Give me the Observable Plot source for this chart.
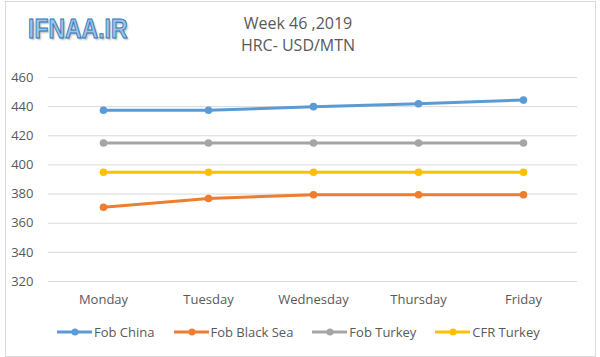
<!DOCTYPE html>
<html>
<head>
<meta charset="utf-8">
<script src="https://cdn.jsdelivr.net/npm/d3@7"></script>
<script src="https://cdn.jsdelivr.net/npm/@observablehq/plot@0.6"></script>
<style>
  html, body { margin: 0; padding: 0; background: #fff; }
  #wrap { position: relative; width: 600px; height: 357px; overflow: hidden; background: #fff; font-family: "Open Sans", sans-serif; color: #595959; }
  #frame { position: absolute; left: 5px; top: 1px; width: 589px; height: 354px; border: 1px solid #d9d9d9; box-sizing: content-box; }
  #chart { position: absolute; left: 0; top: 0; }
  #logo { position: absolute; left: 28px; top: 15px; font-family: "Liberation Sans", Arial, sans-serif; font-weight: bold; font-size: 28px; line-height: 1; color: #9dc3e6; -webkit-text-stroke: 1px #2e75b6; text-shadow: 2px 2px 2px rgba(0,0,0,0.25); transform: scaleX(0.82); transform-origin: left top; letter-spacing: 0px; }
  .title { position: absolute; left: 0; width: 596px; text-align: center; font-size: 16px; line-height: 1; color: #595959; }
  #legend { position: absolute; left: 57px; top: 323px; display: flex; align-items: center; font-size: 13px; line-height: 18px; color: #595959; }
  .item { display: flex; align-items: center; margin-right: 19px; }
  .item svg { margin-right: 2px; }
</style>
</head>
<body>
<div id="wrap">
  <div id="frame"></div>
  <div id="chart"></div>
  <div id="logo">IFNAA.IR</div>
  <div class="title" style="top:15px">Week 46 ,2019</div>
  <div class="title" style="top:37px">HRC- USD/MTN</div>
  <div id="legend"></div>
</div>
<script>
const days = ["Monday", "Tuesday", "Wednesday", "Thursday", "Friday"];
const seriesNames = ["Fob China", "Fob Black Sea", "Fob Turkey", "CFR Turkey"];
const fobChina = [437.5, 437.5, 440, 442, 444.5];
const fobBlackSea = [371, 377, 379.5, 379.5, 379.5];
const fobTurkey = [415, 415, 415, 415, 415];
const cfrTurkey = [395, 395, 395, 395, 395];
const colors = ["#5b9bd5", "#ed7d31", "#a5a5a5", "#ffc000"];
const yTicks = [320, 340, 360, 380, 400, 420, 440, 460];

const seriesValues = [fobChina, fobBlackSea, fobTurkey, cfrTurkey];
const data = [];
seriesNames.forEach((s, i) => {
  days.forEach((d, j) => data.push({series: s, day: d, value: seriesValues[i][j]}));
});

const chart = Plot.plot({
  width: 600,
  height: 357,
  marginTop: 77,
  marginBottom: 76,
  marginLeft: 48,
  marginRight: 23,
  style: {fontFamily: "Open Sans, sans-serif", fontSize: "13px", color: "#595959", background: "transparent"},
  x: {type: "point", domain: days, padding: 0.5, label: null},
  y: {domain: [320, 460], label: null},
  color: {domain: seriesNames, range: colors},
  marks: [
    Plot.gridY(yTicks, {stroke: "#d9d9d9", strokeOpacity: 1, strokeWidth: 1}),
    Plot.axisY(yTicks, {tickSize: 0, tickPadding: 15, label: null, fill: "#595959"}),
    Plot.axisX({tickSize: 0, tickPadding: 13, label: null, fill: "#595959"}),
    Plot.line(data, {x: "day", y: "value", z: "series", stroke: "series", strokeWidth: 3, strokeLinecap: "round"}),
    Plot.dot(data, {x: "day", y: "value", fill: "series", r: 3.8})
  ]
});
document.getElementById("chart").appendChild(chart);

const legend = document.getElementById("legend");
seriesNames.forEach((s, i) => {
  const item = document.createElement("div");
  item.className = "item";
  item.innerHTML = `<svg width="35" height="10"><line x1="0" y1="5" x2="35" y2="5" stroke="${colors[i]}" stroke-width="3"/><circle cx="18" cy="5" r="3.5" fill="${colors[i]}"/></svg><span>${s}</span>`;
  legend.appendChild(item);
});
</script>
</body>
</html>
